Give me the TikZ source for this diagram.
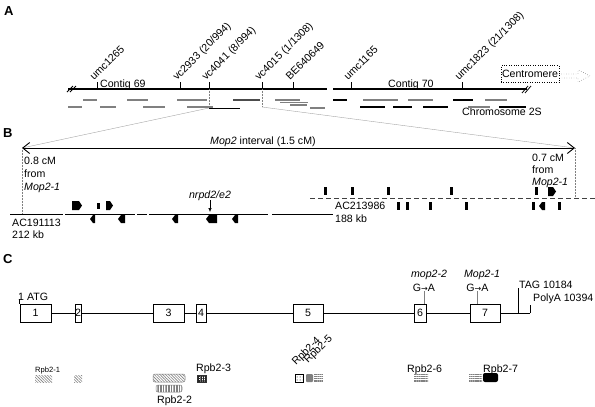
\documentclass[tikz,border=0pt]{standalone}
\usepackage{fontspec}
\setmainfont{Liberation Sans}
\newfontfamily\arrowfont{DejaVu Sans}
\usetikzlibrary{arrows.meta,patterns.meta}
\tikzset{
  panel/.style={anchor=base west,inner sep=0pt,font=\fontsize{13}{15}\selectfont\bfseries},
  txt/.style={anchor=base west,inner sep=0pt},
  marker/.style={rotate=45,anchor=base west,inner sep=0pt},
  contig/.style={line width=2pt},
  bac/.style={line width=1.4pt,gray},
  bacdark/.style={line width=1.4pt,black},
  zoomline/.style={line width=0.4pt,gray!70},
  vdot/.style={densely dotted,gray,line width=0.5pt},
  exon/.style={draw,line width=0.8pt,minimum height=18pt,inner sep=0pt},
  small/.style={anchor=base west,inner sep=0pt,font=\fontsize{7.6}{9}\selectfont},
}
\newcommand\gfwd[4]{\fill (#1,#3) -- (#2-3,#3) -- (#2,#3/2+#4/2) -- (#2-3,#4) -- (#1,#4) -- cycle;}
\newcommand\grev[4]{\fill (#2,#3) -- (#1+3,#3) -- (#1,#3/2+#4/2) -- (#1+3,#4) -- (#2,#4) -- cycle;}
\newcommand\gbar[3]{\fill (#1-1.5,#2) rectangle (#1+1.5,#3);}
\newcommand\gtoa{G{\arrowfont\fontsize{8}{9}\selectfont→}A}
\begin{document}
\begin{tikzpicture}[x=1pt,y=-1pt,font=\fontsize{10.6}{13}\selectfont]
\useasboundingbox (0,0) rectangle (595,407);
\node[panel] (labA) at (4,15) {A};
\node[panel] (labB) at (3,137) {B};
\node[panel] (labC) at (3,263) {C};

\draw[contig] (68,89) -- (327,89);
\draw[contig] (333,89) -- (527,89);
\draw[line width=0.8pt] (67,92) -- (73,86) (70,92) -- (76,86);
\draw[line width=0.8pt] (522,93) -- (528,86) (525,93) -- (531,86);
\draw[line width=0.8pt] (97,82) -- (97,89) (180,82) -- (180,89) (209,82) -- (209,89)
  (262,82) -- (262,89) (293,82) -- (293,89) (351,82) -- (351,89) (462,82) -- (462,89);
\node[marker] (umc1265) at (94,81) {umc1265};
\node[marker] (vc2933) at (177,81) {vc2933 (20/994)};
\node[marker] (vc4041) at (206,81) {vc4041 (8/994)};
\node[marker] (vc4015) at (259,81) {vc4015 (1/1308)};
\node[marker] (be640649) at (290,81) {BE640649};
\node[marker] (umc1165) at (348,81) {umc1165};
\node[marker] (umc1823) at (459,81) {umc1823 (21/1308)};
\node[txt] (contig69) at (100,87) {Contig 69};
\node[txt] (contig70) at (388,87) {Contig 70};
\node[draw,dotted,minimum width=58pt,minimum height=17pt,inner sep=0pt] (centro) at (530,74) {Centromere};
\draw[dotted] (559,74) -- (578,74) -- (578,70) -- (590,76) -- (578,82) -- (578,78) -- (559,78);
\node[txt] (chrom) at (462,115) {Chromosome 2S};

\draw[bac] (83,100) -- (97,100) (127,100) -- (148,100) (177,100) -- (207,100);
\draw[bac,gray!60!black] (233,100) -- (260,100);
\draw[bac] (275,100) -- (300,100) (280,102.5) -- (308,102.5);
\draw[bacdark] (333,100) -- (347,100);
\draw[bac] (363,100) -- (398,100) (408,100) -- (433,100);
\draw[bacdark] (453,100) -- (473,100);
\draw[bac] (485,100) -- (507,100);
\draw[bac] (68,107) -- (82,107) (100,107) -- (116,107) (143,107) -- (165,107) (187,107) -- (213,107);
\draw[bacdark] (209,108.5) -- (240,108.5);
\draw[bac] (290,105) -- (307,105) (310,108) -- (325,108);
\draw[bacdark] (360,107) -- (385,107) (393,107) -- (412,107) (423,107) -- (448,107);
\draw[bac] (468,107) -- (490,107);
\draw[bacdark] (499,107) -- (526,107);

\coordinate (bl) at (22,148);
\coordinate (br) at (575,148);
\draw[vdot] (209,89) -- (209,108);
\draw[vdot] (262,89) -- (262,107);
\draw[zoomline] (209,108) -- (bl);
\draw[zoomline] (262,107) -- (br);
\draw[line width=0.9pt,{Straight Barb[length=7pt,width=11pt]}-{Straight Barb[length=7pt,width=11pt]}] (bl) -- (br);
\node[txt] (interval) at (210,144) {\textit{Mop2} interval (1.5 cM)};
\draw[vdot] (bl) -- (22,214);
\draw[vdot] (br) -- (575,198);
\node[txt] (l1) at (24,164) {0.8 cM};
\node[txt] (l2) at (24,177) {from};
\node[txt] (l3) at (24,190) {\textit{Mop2-1}};
\node[txt] (r1) at (532,161) {0.7 cM};
\node[txt] (r2) at (532,173) {from};
\node[txt] (r3) at (532,185) {\textit{Mop2-1}};

\draw[line width=1pt] (10,214) -- (63,214) (65,214) -- (135,214) (137,214) -- (147,214)
  (149,214) -- (268,214) (272,214) -- (333,214);
\draw[line width=1pt,gray!50!black,dash pattern=on 5pt off 3pt] (310,198) -- (595,198);
\node[txt] (ac1) at (12,226) {AC191113};
\node[txt] (kb1) at (12,238) {212 kb};
\node[txt] (ac2) at (335,209) {AC213986};
\node[txt] (kb2) at (335,222) {188 kb};

\gfwd{72}{82}{201}{210}
\gbar{98}{203}{209}
\gfwd{106}{113}{201}{210}
\grev{90}{95}{215}{223}
\grev{118}{125}{215}{223}
\grev{172}{178}{215}{223}
\grev{206}{217}{215}{223}
\grev{232}{238}{215}{223}
\node[inner sep=0pt,anchor=base] (nrpd) at (210,198) {\textit{nrpd2/e2}};
\coordinate (ntip) at (210,212);
\draw[line width=0.6pt,-{Latex[length=4pt,width=3.5pt]}] (nrpd.south) -- (ntip);

\gbar{325}{187}{195}
\gbar{352}{187}{195}
\gbar{388}{187}{195}
\gbar{451}{187}{195}
\gbar{536}{187}{195}
\gfwd{548}{556}{187}{196}
\gbar{398}{202}{210}
\gbar{407}{202}{210}
\gbar{430}{202}{210}
\gbar{466}{202}{210}
\gbar{533}{202}{210}
\grev{539}{545}{202}{210}
\gbar{559}{202}{210}

\node[exon,minimum width=31pt] (e1) at (35.5,313) {1};
\node[exon,minimum width=6pt] (e2) at (78,313) {2};
\node[exon,minimum width=31pt] (e3) at (168.5,313) {3};
\node[exon,minimum width=10pt] (e4) at (201,313) {4};
\node[exon,minimum width=30pt] (e5) at (308,313) {5};
\node[exon,minimum width=12pt] (e6) at (420,313) {6};
\node[exon,minimum width=30pt] (e7) at (485,313) {7};
\coordinate (tag) at (518,313);
\coordinate (polya) at (530,313);
\draw[line width=0.8pt] (e1) -- (e2);
\draw[line width=0.8pt] (e2) -- (e3);
\draw[line width=0.8pt] (e3) -- (e4);
\draw[line width=0.8pt] (e4) -- (e5);
\draw[line width=0.8pt] (e5) -- (e6);
\draw[line width=0.8pt] (e6) -- (e7);
\draw[line width=0.8pt] (e7) -- (polya);
\draw[line width=0.8pt] (e1.north west) -- ++(0,-5);
\node[txt] (atg) at (18,300) {1 ATG};
\draw[line width=0.8pt] (tag) -- ++(0,-25);
\node[txt] (tagtxt) at (519,288) {TAG 10184};
\draw[line width=0.8pt] (polya) -- ++(0,-8);
\node[txt] (polytxt) at (533,301) {PolyA 10394};
\node[inner sep=0pt,anchor=base] (mu1) at (429,277.5) {\textit{mop2-2}};
\node[inner sep=0pt,anchor=base] (ga1) at (424,291) {\gtoa};
\draw[gray,line width=0.5pt] (ga1.south) -- (ga1.south |- e6.north);
\node[inner sep=0pt,anchor=base] (mu2) at (482,277.5) {\textit{Mop2-1}};
\node[inner sep=0pt,anchor=base] (ga2) at (477.5,291) {\gtoa};
\draw[gray,line width=0.5pt] (ga2.south) -- (ga2.south |- e7.north);

\node[small] (rpb1) at (35,372.5) {Rpb2-1};
\fill[pattern={Lines[angle=-45,distance=2pt,line width=0.6pt]},pattern color=gray] (35,375) rectangle (52,382);
\fill[pattern={Lines[angle=-45,distance=2pt,line width=0.6pt]},pattern color=gray] (74,375) rectangle (82,382);
\draw[gray,line width=0.5pt,rounded corners=2pt,pattern={Lines[angle=-45,distance=2pt,line width=0.6pt]},pattern color=gray] (153,374) rectangle (185,382);
\draw[gray,line width=0.5pt,rounded corners=2pt,pattern={Lines[angle=90,distance=1.6pt,line width=0.5pt]},pattern color=gray] (156,385) rectangle (182,392);
\node[txt] (rpb2) at (157,403) {Rpb2-2};
\node[txt] (rpb3) at (196,371.5) {Rpb2-3};
\draw[gray!40!black,line width=0.4pt,pattern={Hatch[angle=0,distance=1.8pt,line width=0.6pt]},pattern color=gray!30!black] (197,375) rectangle (206,382);
\node[marker] (rpb4) at (296,366) {Rpb2-4};
\node[marker] (rpb5) at (308,364) {Rpb2-5};
\draw[line width=0.5pt,pattern={Dots[distance=3pt,radius=0.5pt]}] (295,374) rectangle (303,382);
\fill[gray,rounded corners=1pt] (306,374) rectangle (313,382);
\fill[pattern={Lines[angle=0,distance=1.8pt,line width=0.6pt]},pattern color=gray] (314,374) rectangle (323,382);
\node[txt] (rpb6) at (407,372) {Rpb2-6};
\fill[pattern={Lines[angle=0,distance=1.8pt,line width=0.6pt]},pattern color=gray] (414,373) rectangle (428,382);
\fill[pattern={Lines[angle=0,distance=1.8pt,line width=0.6pt]},pattern color=gray] (469,373) rectangle (482,382);
\fill[black,rounded corners=2pt] (483,373) rectangle (498,382);
\node[txt] (rpb7) at (483,372) {Rpb2-7};
\end{tikzpicture}
\end{document}
